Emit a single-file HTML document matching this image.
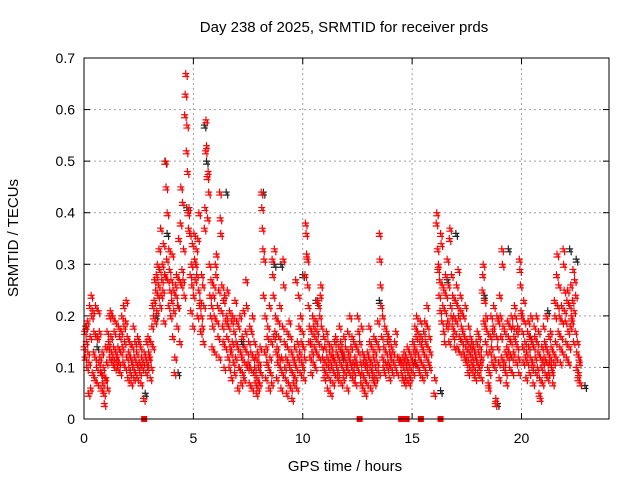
<!DOCTYPE html>
<html><head><meta charset="utf-8"><style>
body{margin:0;background:#fff}
svg{display:block}
text{font-family:"Liberation Sans",sans-serif;fill:#000}
</style></head><body>
<svg id="chart" width="640" height="480">
<text x="344" y="32" font-size="15" text-anchor="middle">Day 238 of 2025, SRMTID for receiver prds</text>
<text x="345" y="471" font-size="15" text-anchor="middle">GPS time / hours</text>
<text transform="translate(18,238) rotate(-90)" font-size="15" text-anchor="middle">SRMTID / TECUs</text>
<g id="grid"></g><g id="ticks"></g><g id="marks"></g>
<rect x="84" y="58" width="525" height="361" fill="none" stroke="#000" stroke-width="1"/>
</svg>
<script>
const xTicks=[0,5,10,15,20];
const yTicks=[0,0.1,0.2,0.3,0.4,0.5,0.6,0.7];
const yTickLabels=["0","0.1","0.2","0.3","0.4","0.5","0.6","0.7"];
const redBinStart=[0,0.1,0.2,0.3,0.4,0.5,0.6,0.7,0.8,0.9,1.0,1.1,1.2,1.3,1.4,1.5,1.6,1.7,1.8,1.9,2.0,2.1,2.2,2.3,2.4,2.5,2.6,2.7,2.8,2.9,3.0,3.1,3.2,3.3,3.4,3.5,3.6,3.7,3.8,3.9,4.0,4.1,4.2,4.3,4.4,4.5,4.6,4.7,4.8,4.9,5.0,5.1,5.2,5.3,5.4,5.5,5.6,5.7,5.8,5.9,6.0,6.1,6.2,6.3,6.4,6.5,6.6,6.7,6.8,6.9,7.0,7.1,7.2,7.3,7.4,7.5,7.6,7.7,7.8,7.9,8.0,8.1,8.2,8.3,8.4,8.5,8.6,8.7,8.8,8.9,9.0,9.1,9.2,9.3,9.4,9.5,9.6,9.7,9.8,9.9,10.0,10.1,10.2,10.3,10.4,10.5,10.6,10.7,10.8,10.9,11.0,11.1,11.2,11.3,11.4,11.5,11.6,11.7,11.8,11.9,12.0,12.1,12.2,12.3,12.4,12.5,12.6,12.7,12.8,12.9,13.0,13.1,13.2,13.3,13.4,13.5,13.6,13.7,13.8,13.9,14.0,14.1,14.2,14.3,14.4,14.5,14.6,14.7,14.8,14.9,15.0,15.1,15.2,15.3,15.4,15.5,15.6,15.7,15.8,16.0,16.1,16.2,16.3,16.4,16.5,16.6,16.7,16.8,16.9,17.0,17.1,17.2,17.3,17.4,17.5,17.6,17.7,17.8,17.9,18.0,18.1,18.2,18.3,18.4,18.5,18.6,18.7,18.8,18.9,19.0,19.1,19.2,19.3,19.4,19.5,19.6,19.7,19.8,19.9,20.0,20.1,20.2,20.3,20.4,20.5,20.6,20.7,20.8,20.9,21.0,21.1,21.2,21.3,21.4,21.5,21.6,21.7,21.8,21.9,22.0,22.1,22.2,22.3,22.4,22.5,22.6];
const redVals=[[14,17,12,18],[15,10,19,13],[5,11,22,16],[6,24,20,9],[21,13,17,8],[12,22,16,10],[7,16,21,11],[17,12,9,6],[9,13,7,10],[5,3,8,14],[8,11,17,6],[14,15,20,12],[21,16,13,11],[20,12,14,17],[10,19,13,11],[12,10,14,18],[11,16,9,13],[17,20,14,11],[22,18,15,10],[19,23,12,16],[8,13,10,15],[9,12,7,11],[14,10,18,8],[12,15,9,11],[13,8,16,10],[15,11,9,14],[7,12,10],[11,4,13],[12,9,15,11],[10,16,13,12],[12,8,15,10],[18,22,14,20],[23,27,19,25],[28,21,30,24],[26,33,29,22],[37,24,27,30],[25,34,19,28],[28,50,45,31],[40,27,22,33],[29,25,20,27],[23,32,16,25],[21,9,12,26],[24,28,18,22],[22,35,27,15],[38,45,26,29],[42,27,33,24],[59,63,67,52],[57,48,40,37],[41,36,28,21],[30,26,34,18],[24,36,31,27],[30,33,28,20],[35,25,40,22],[23,17,20,28],[18,26,15,22],[37,41,52,58],[53,47,39,48],[44,30,24,20],[27,22,14,18],[24,26,20,13],[30,28,32,19],[22,16,25,12],[44,39,36,21],[26,18,15,23],[10,24,14,19],[20,16,25,12],[18,10,21,14],[13,8,19,15],[20,11,17,9],[23,12,15,19],[14,6,18,10],[10,20,13,7],[12,16,9,21],[8,14,11,17],[27,22,13,10],[11,15,7,18],[10,13,17,6],[20,12,9,15],[10,7,12,5],[8,13,6,10],[11,7,14,9],[44,41,37,33],[24,31,13,20],[8,14,11,16],[18,10,6,22],[12,9,15,7],[31,28,24,16],[33,17,20,13],[8,14,11,19],[16,12,22,10],[6,12,9,18],[31,26,15,10],[8,12,5,17],[14,11,7,19],[10,16,6,13],[4,9,12,7],[11,14,8,27],[10,6,15,12],[24,18,13,9],[20,15,11,17],[10,14,8,12],[28,38,36,32],[31,26,22,15],[18,12,15,9],[17,13,20,11],[18,14,16,10],[19,13,17,23],[15,22,12,20],[24,26,18,14],[12,10,16,8],[14,11,9,17],[12,6,15,10],[8,13,11,5],[14,10,12,7],[12,9,15,11],[16,13,10,8],[9,12,14,18],[11,15,7,13],[10,13,8,16],[12,9,14,11],[10,6,17,12],[13,9,20,11],[14,10,16,8],[11,15,9,12],[7,11,14,10],[20,17,13,9],[15,11,7,18],[9,13,6,11],[8,12,5,10],[11,7,13,9],[12,18,15,10],[6,11,14,8],[9,12,16,7],[13,10,8,15],[11,19,14,9],[36,31,26,22],[16,12,20,10],[14,9,18,11],[13,17,10,15],[11,16,8,13],[12,10,14],[9,13,11],[15,10,17],[9,12],[12,11],[9,11,8,12],[10,13,7,11],[8,12,10,14],[9,11,7,13],[10,8,12],[11,15,9,13],[14,18,11,16],[20,13,17,10],[12,9,15,19],[16,11,14,8],[13,17,10,19],[15,9,12,22],[18,14,11,16],[10,13],[5,8],[38,40,33,29],[30,24,27,21],[36,34,19,26],[22,17,25,15],[21,28,24,18],[31,19,26,15],[35,37,22,20],[28,18,24,16],[20,14,17,23],[19,26,14,22],[29,20,16,13],[24,21,18,15],[17,13,20,12],[16,22,14,11],[12,15,9,18],[13,10,16,14],[11,15,12,9],[14,10,13,8],[12,15,11,17],[9,13,16,10],[14,11,8,12],[25,28,30,19],[23,18,15,20],[13,17,10,7],[6,9,13,16],[20,14,11,17],[18,22,12,10],[3,4,16,20],[14,19,11,8],[24,20,16,12],[33,30,18,10],[11,17,13,9],[7,14,19,12],[16,13,10,18],[15,20,12,9],[18,13,16,22],[20,15,11,17],[14,18,12,9],[31,29,26,21],[20,17,14,11],[23,19,15,12],[8,13,11,17],[19,14,9,16],[12,20,15,10],[11,7,14,18],[16,12,9,20],[15,10,13,17],[5,8,4,12],[10,14,7,11],[18,12,15,9],[14,20,11,8],[13,9,16,11],[12,17,14,10],[9,7,13,11],[23,20,15,12],[28,32,22,17],[26,20,14,11],[16,22,19,13],[33,30,25,21],[19,15,12,23],[25,17,11,14],[22,18,26,20],[19,23,29,15],[21,27,17,24],[10,13,15,8],[9,12,11,7]];
const blackT=[0.1,0.6,1.5,2.8,3.3,3.7,3.8,4.3,4.7,5.5,5.6,6.5,7.2,8.2,8.7,9.0,10.0,10.6,11.8,13.5,15.1,16.3,16.6,17.0,17.6,18.3,18.9,19.4,20.4,21.2,22.2,22.5,22.9];
const blackV=[0.18,0.14,0.12,0.05,0.2,0.5,0.36,0.09,0.41,0.57,0.5,0.44,0.15,0.44,0.3,0.3,0.28,0.23,0.12,0.23,0.11,0.055,0.27,0.36,0.13,0.24,0.03,0.33,0.16,0.21,0.33,0.31,0.065];
const outageTimes=[2.75,12.6,14.5,14.75,15.4,16.3];

const X0=84,X1=609,Y0=419,Y1=58,XMAX=24,YMAX=0.7;
const xs=t=>X0+(X1-X0)*t/XMAX;
const ys=v=>Y0-(Y0-Y1)*v/YMAX;
const NS="http://www.w3.org/2000/svg";
function mk(tag,attrs,parent){const e=document.createElementNS(NS,tag);for(const k in attrs)e.setAttribute(k,attrs[k]);parent.appendChild(e);return e;}
const grid=document.getElementById('grid'),ticks=document.getElementById('ticks'),marks=document.getElementById('marks');
xTicks.forEach(t=>{
  const x=xs(t);
  if(t>0){const g=mk('line',{x1:x,x2:x,y1:Y1,y2:Y0,stroke:'#a0a0a0','stroke-dasharray':'2,3'},grid);
  
  }
  mk('line',{x1:x,x2:x,y1:Y0,y2:Y0-6,stroke:'#000'},ticks);
  mk('line',{x1:x,x2:x,y1:Y1,y2:Y1+6,stroke:'#000'},ticks);
  const l=mk('text',{x:x,y:Y0+24,'font-size':14,'text-anchor':'middle'},ticks);l.textContent=t;
  
  
});
yTicks.forEach((v,i)=>{
  const y=ys(v);
  if(v>0&&v<YMAX){const g=mk('line',{x1:X0,x2:X1,y1:y,y2:y,stroke:'#a0a0a0','stroke-dasharray':'2,3'},grid);
  
  }
  mk('line',{x1:X0,x2:X0+6,y1:y,y2:y,stroke:'#000'},ticks);
  mk('line',{x1:X1,x2:X1-6,y1:y,y2:y,stroke:'#000'},ticks);
  const l=mk('text',{x:X0-9,y:y+5,'font-size':14,'text-anchor':'end'},ticks);l.textContent=yTickLabels[i];
  
  
});
function plus(t,v,col,name){
  const x=xs(t),y=ys(v);
  const p=mk('path',{d:`M${x-3.5},${y}h7M${x},${y-3.5}v7M${x-3.5},${y+3}h7M${x+1.5},${y-0.5}v7`,stroke:col,'stroke-width':1.2,fill:'none'},marks);
  
  
}
blackT.forEach((t,i)=>plus(t,blackV[i],'#222','black-point'));
redBinStart.forEach((t,i)=>{redVals[i].forEach((v,j)=>plus(t+j*0.025,v/100,'#f00','red-point'));});
outageTimes.forEach(t=>{
  const r=mk('rect',{x:xs(t)-3,y:Y0-3,width:6,height:6,fill:'#f00'},marks);
  
  
});
</script>
</body></html>
